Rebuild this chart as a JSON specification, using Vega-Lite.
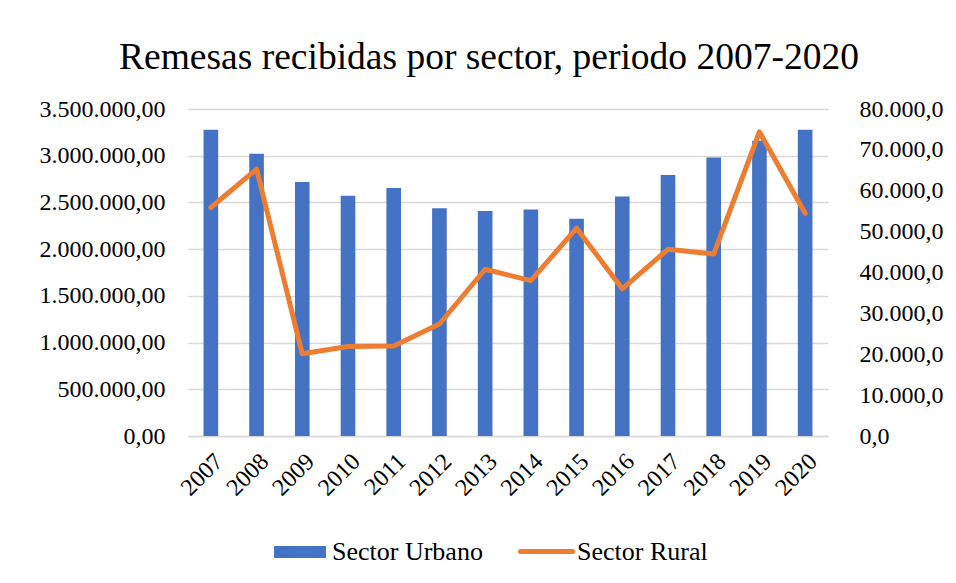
{
  "$schema": "https://vega.github.io/schema/vega-lite/v6.json",
  "autosize": "none",
  "width": 640,
  "height": 327,
  "padding": {"left": 188, "top": 109, "right": 128, "bottom": 147},
  "background": "white",
  "config": {
    "locale": {"number": {"decimal": ",", "thousands": ".", "grouping": [3], "currency": ["", " €"]}},
    "font": "Liberation Serif",
    "view": {"stroke": null},
    "axis": {"labelFont": "Liberation Serif", "labelColor": "black"},
    "legend": {"labelFont": "Liberation Serif"}
  },
  "title": {
    "text": "Remesas recibidas por sector, periodo 2007-2020",
    "font": "Liberation Serif",
    "fontSize": 37.5,
    "fontWeight": "normal",
    "color": "black",
    "anchor": "middle",
    "dx": -19,
    "offset": 21
  },
  "data": {
    "values": [
      {"year": "2007", "urbano": 3278000, "rural": 55900},
      {"year": "2008", "urbano": 3021000, "rural": 65300},
      {"year": "2009", "urbano": 2718000, "rural": 20100},
      {"year": "2010", "urbano": 2571000, "rural": 21900},
      {"year": "2011", "urbano": 2654000, "rural": 22000},
      {"year": "2012", "urbano": 2439000, "rural": 27400},
      {"year": "2013", "urbano": 2407000, "rural": 40800},
      {"year": "2014", "urbano": 2425000, "rural": 38000},
      {"year": "2015", "urbano": 2325000, "rural": 50850},
      {"year": "2016", "urbano": 2564000, "rural": 36000},
      {"year": "2017", "urbano": 2793000, "rural": 45700},
      {"year": "2018", "urbano": 2982000, "rural": 44500},
      {"year": "2019", "urbano": 3160000, "rural": 74400},
      {"year": "2020", "urbano": 3278000, "rural": 54500}
    ]
  },
  "encoding": {
    "x": {
      "field": "year",
      "type": "ordinal",
      "scale": {"paddingInner": 0.68, "paddingOuter": 0.34},
      "axis": {
        "title": null,
        "labelAngle": -45,
        "labelFontSize": 24,
        "labelPadding": 13,
        "ticks": false,
        "domainColor": "#d9d9d9",
        "domainWidth": 1.5,
        "grid": false
      }
    }
  },
  "layer": [
    {
      "mark": {"type": "bar", "color": "#4472C4"},
      "encoding": {
        "y": {
          "field": "urbano",
          "type": "quantitative",
          "scale": {"domain": [0, 3500000], "nice": false},
          "axis": {
            "title": null,
            "values": [0, 500000, 1000000, 1500000, 2000000, 2500000, 3000000, 3500000],
            "format": ",.2f",
            "labelFontSize": 24,
            "labelPadding": 23,
            "ticks": false,
            "domain": false,
            "grid": true,
            "gridColor": "#d9d9d9",
            "gridWidth": 1.5
          }
        },
        "fill": {
          "datum": "Sector Urbano",
          "type": "nominal",
          "scale": {"range": ["#4472C4"]},
          "legend": {
            "title": null,
            "orient": "none",
            "legendX": 86,
            "legendY": 417,
            "direction": "horizontal",
            "padding": 0,
            "symbolType": "M-1,-0.23L1,-0.23L1,0.23L-1,0.23Z",
            "symbolSize": 2704,
            "symbolStrokeWidth": 0,
            "labelFontSize": 26,
            "labelColor": "black",
            "labelOffset": 6
          }
        }
      }
    },
    {
      "mark": {"type": "line", "color": "#ED7D31", "strokeWidth": 5, "strokeCap": "round", "strokeJoin": "round"},
      "encoding": {
        "y": {
          "field": "rural",
          "type": "quantitative",
          "scale": {"domain": [0, 80000], "nice": false},
          "axis": {
            "title": null,
            "orient": "right",
            "values": [0, 10000, 20000, 30000, 40000, 50000, 60000, 70000, 80000],
            "format": ",.1f",
            "labelFontSize": 24,
            "labelPadding": 31,
            "ticks": false,
            "domain": false,
            "grid": false
          }
        },
        "stroke": {
          "datum": "Sector Rural",
          "type": "nominal",
          "scale": {"range": ["#ED7D31"]},
          "legend": {
            "title": null,
            "orient": "none",
            "legendX": 330,
            "legendY": 414,
            "direction": "horizontal",
            "padding": 0,
            "symbolType": "stroke",
            "symbolSize": 2704,
            "symbolStrokeWidth": 5,
            "labelFontSize": 26,
            "labelColor": "black",
            "labelOffset": 2,
            "encode": {"symbols": {"update": {"strokeCap": {"value": "round"}}}}
          }
        }
      }
    }
  ],
  "resolve": {"scale": {"y": "independent"}}
}
